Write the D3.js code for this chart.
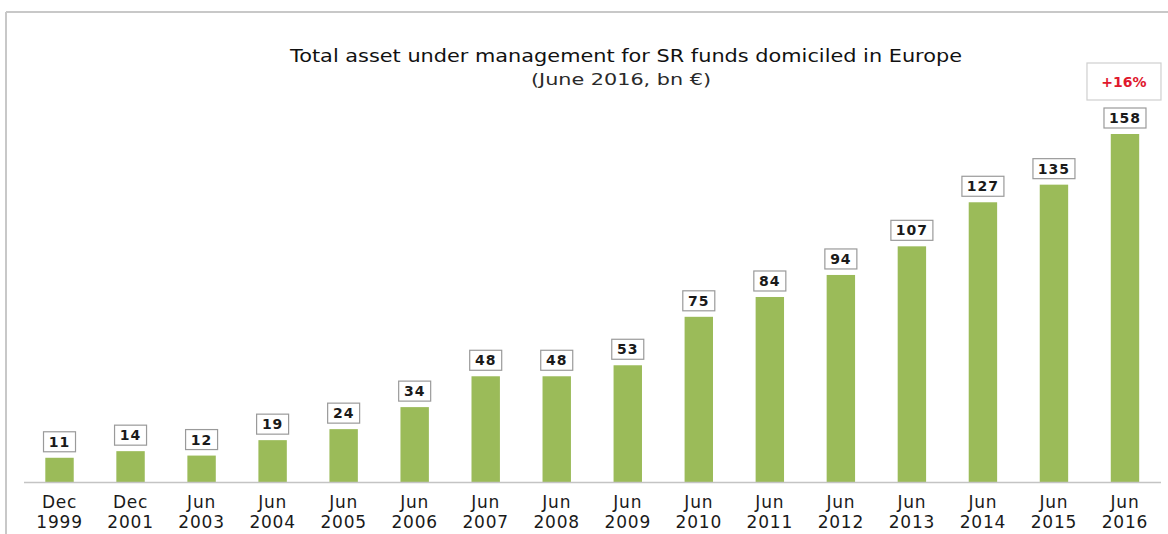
<!DOCTYPE html>
<html>
<head>
<meta charset="utf-8">
<script src="https://cdn.jsdelivr.net/npm/d3@7"></script>
<style>
  body { margin: 0; background: #fff; }
  text { font-family: "DejaVu Sans", Verdana, sans-serif; fill: #1a1a1a; }
</style>
</head>
<body>
<svg id="chart"></svg>
<script>
var months = ["Dec", "Dec", "Jun", "Jun", "Jun", "Jun", "Jun", "Jun", "Jun", "Jun", "Jun", "Jun", "Jun", "Jun", "Jun", "Jun"];
var years = ["1999", "2001", "2003", "2004", "2005", "2006", "2007", "2008", "2009", "2010", "2011", "2012", "2013", "2014", "2015", "2016"];
var assets = [11, 14, 12, 19, 24, 34, 48, 48, 53, 75, 84, 94, 107, 127, 135, 158];
var growthLabel = "+16%";

var width = 1168,
    height = 534,
    baseline = 482;

var data = assets.map(function(v, i) {
  return { key: months[i] + " " + years[i], month: months[i], year: years[i], value: v };
});

var svg = d3.select("#chart")
    .attr("width", width)
    .attr("height", height);

// frame lines (top and left only, as in the source)
svg.append("line")
    .attr("x1", 6).attr("x2", width).attr("y1", 12).attr("y2", 12)
    .attr("stroke", "#c8c8c8").attr("stroke-width", 2);
svg.append("line")
    .attr("x1", 6).attr("x2", 6).attr("y1", 12).attr("y2", height)
    .attr("stroke", "#c8c8c8").attr("stroke-width", 2);

var x = d3.scaleBand()
    .domain(data.map(function(d) { return d.key; }))
    .range([24, 1160.5])
    .paddingInner(0.6)
    .paddingOuter(0.3);

var y = d3.scaleLinear()
    .domain([0, 158])
    .range([baseline, 134]);

// title
svg.append("text")
    .attr("x", 626).attr("y", 62)
    .attr("text-anchor", "middle")
    .attr("textLength", 672)
    .attr("lengthAdjust", "spacingAndGlyphs")
    .style("font-size", "18px")
    .style("fill", "#111")
    .text("Total asset under management for SR funds domiciled in Europe");
svg.append("text")
    .attr("x", 621).attr("y", 85)
    .attr("text-anchor", "middle")
    .attr("textLength", 180)
    .attr("lengthAdjust", "spacingAndGlyphs")
    .style("font-size", "15px")
    .style("fill", "#2a2a2a")
    .text("(June 2016, bn €)");

// bars
svg.selectAll("rect.bar")
    .data(data)
  .enter().append("rect")
    .attr("class", "bar")
    .attr("x", function(d) { return x(d.key); })
    .attr("y", function(d) { return y(d.value); })
    .attr("width", x.bandwidth())
    .attr("height", function(d) { return baseline - y(d.value); })
    .attr("fill", "#9bbb59");

// axis line
svg.append("line")
    .attr("x1", 24).attr("x2", 1161)
    .attr("y1", baseline + 0.5).attr("y2", baseline + 0.5)
    .attr("stroke", "#c4c4c4").attr("stroke-width", 1.5);

// category labels
var cat = svg.selectAll("g.cat")
    .data(data)
  .enter().append("g")
    .attr("class", "cat")
    .attr("transform", function(d) { return "translate(" + (x(d.key) + x.bandwidth() / 2) + ",0)"; });
cat.append("text")
    .attr("y", 508)
    .attr("text-anchor", "middle")
    .style("font-size", "17px")
    .style("letter-spacing", "0.8px")
    .text(function(d) { return d.month; });
cat.append("text")
    .attr("y", 528)
    .attr("text-anchor", "middle")
    .style("font-size", "17px")
    .style("letter-spacing", "0.8px")
    .text(function(d) { return d.year; });

// value boxes
var lab = svg.selectAll("g.lab")
    .data(data)
  .enter().append("g")
    .attr("class", "lab")
    .attr("transform", function(d) { return "translate(" + (x(d.key) + x.bandwidth() / 2) + "," + (y(d.value) - 5) + ")"; });
lab.append("rect")
    .attr("x", function(d) { return d.value >= 100 ? -21 : -16; })
    .attr("y", -21)
    .attr("width", function(d) { return d.value >= 100 ? 42 : 32; })
    .attr("height", 20)
    .attr("fill", "#fff")
    .attr("stroke", "#9a9a9a")
    .attr("stroke-width", 1.2);
lab.append("text")
    .attr("y", -6)
    .attr("text-anchor", "middle")
    .style("font-size", "14px")
    .style("font-weight", "bold")
    .style("letter-spacing", "1px")
    .text(function(d) { return d.value; });

// growth callout over the last bar
var last = data[data.length - 1];
var cx = x(last.key) + x.bandwidth() / 2;
svg.append("rect")
    .attr("x", cx - 38).attr("y", 63)
    .attr("width", 74).attr("height", 37)
    .attr("fill", "#fff")
    .attr("stroke", "#cfcfcf")
    .attr("stroke-width", 1.2);
svg.append("text")
    .attr("x", cx - 1).attr("y", 87)
    .attr("text-anchor", "middle")
    .style("font-size", "14px")
    .style("font-weight", "bold")
    .style("fill", "#e0182d")
    .text(growthLabel);
</script>
</body>
</html>
